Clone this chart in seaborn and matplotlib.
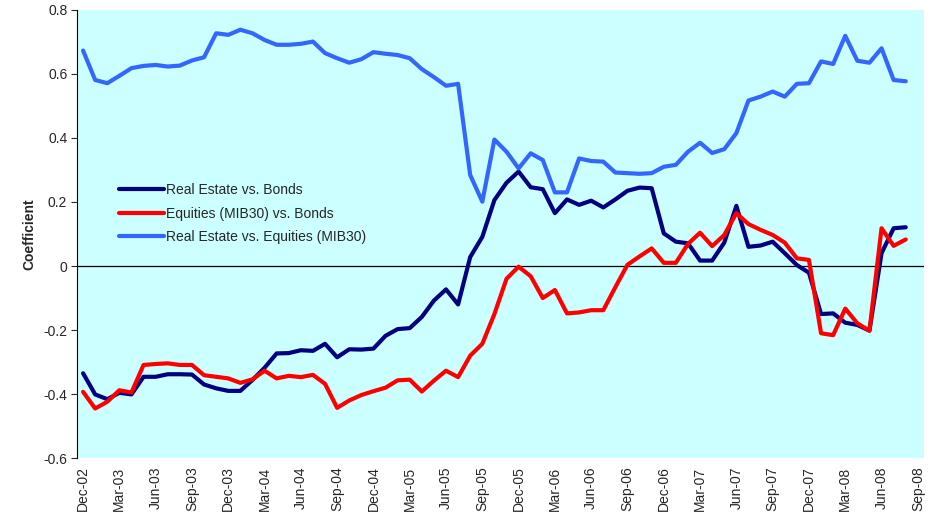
import seaborn as sns
import matplotlib.pyplot as plt
import pandas as pd

# monthly observations, Dec-02 .. Aug-08
months = pd.date_range('2002-12-01', '2008-08-01', freq='MS')

re_bonds = [-0.335, -0.401, -0.416, -0.396, -0.401, -0.346, -0.346, -0.338, -0.338, -0.339,
            -0.370, -0.382, -0.390, -0.390, -0.356, -0.318, -0.273, -0.272, -0.263, -0.265,
            -0.243, -0.285, -0.260, -0.261, -0.258, -0.218, -0.197, -0.194, -0.159, -0.108,
            -0.073, -0.120, 0.028, 0.091, 0.206, 0.260, 0.295, 0.246, 0.240, 0.165,
            0.208, 0.191, 0.204, 0.183, 0.208, 0.235, 0.245, 0.243, 0.102, 0.076,
            0.071, 0.017, 0.017, 0.073, 0.188, 0.060, 0.064, 0.076, 0.040, 0.003,
            -0.021, -0.150, -0.148, -0.177, -0.184, -0.202, 0.040, 0.118, 0.121]

eq_bonds = [-0.393, -0.445, -0.424, -0.388, -0.395, -0.309, -0.306, -0.304, -0.309, -0.309,
            -0.341, -0.346, -0.351, -0.365, -0.354, -0.327, -0.351, -0.343, -0.347, -0.340,
            -0.368, -0.443, -0.420, -0.403, -0.391, -0.380, -0.357, -0.355, -0.392, -0.358,
            -0.327, -0.347, -0.280, -0.243, -0.150, -0.040, -0.002, -0.032, -0.100, -0.075,
            -0.148, -0.145, -0.138, -0.138, -0.066, 0.004, 0.030, 0.055, 0.010, 0.010,
            0.069, 0.104, 0.062, 0.097, 0.165, 0.131, 0.113, 0.097, 0.073, 0.024,
            0.019, -0.210, -0.216, -0.133, -0.179, -0.202, 0.118, 0.063, 0.083]

re_eq = [0.673, 0.581, 0.571, 0.594, 0.618, 0.625, 0.628, 0.623, 0.626, 0.642,
         0.652, 0.727, 0.722, 0.738, 0.727, 0.706, 0.691, 0.691, 0.694, 0.701,
         0.665, 0.649, 0.635, 0.646, 0.668, 0.663, 0.659, 0.649, 0.615, 0.590,
         0.563, 0.569, 0.284, 0.201, 0.395, 0.357, 0.305, 0.352, 0.331, 0.230,
         0.230, 0.336, 0.328, 0.326, 0.292, 0.290, 0.288, 0.290, 0.310, 0.316,
         0.357, 0.385, 0.353, 0.365, 0.415, 0.517, 0.529, 0.545, 0.529, 0.569,
         0.571, 0.639, 0.631, 0.719, 0.641, 0.635, 0.680, 0.581, 0.577]

series_names = ['Real Estate vs. Bonds', 'Equities (MIB30) vs. Bonds',
                'Real Estate vs. Equities (MIB30)']
colors = ['#000080', '#FF0000', '#3366FF']

# category axis runs one month further (Sep-08) than the data
tick_dates = pd.date_range('2002-12-01', '2008-09-01', freq='3MS')
tick_labels = [d.strftime('%b-%y') for d in tick_dates]

frames = []
for name, vals in zip(series_names, [re_bonds, eq_bonds, re_eq]):
    frames.append(pd.DataFrame({'idx': range(len(months)), 'Coefficient': vals, 'Series': name}))
df = pd.concat(frames)

sns.set_style('white')
plt.rcParams['font.family'] = ['Liberation Sans', 'DejaVu Sans']

fig = plt.figure(figsize=(9.37, 5.2), dpi=100)
ax = fig.add_axes([0.0822, 0.119, 0.9038, 0.862])
ax.set_facecolor('#CCFFFF')

sns.lineplot(data=df, x='idx', y='Coefficient', hue='Series', palette=colors,
             hue_order=series_names, linewidth=3, ax=ax)

ax.axhline(0, color='black', linewidth=0.9, zorder=1)

ax.set_xlim(-0.5, 69.5)
ax.set_ylim(-0.6, 0.8)
ax.set_xticks(range(0, 70, 3))
ax.set_xticklabels(tick_labels, rotation=90, fontsize=10)
ax.set_yticks([-0.6, -0.4, -0.2, 0, 0.2, 0.4, 0.6, 0.8])
ax.set_yticklabels(['-0.6', '-0.4', '-0.2', '0', '0.2', '0.4', '0.6', '0.8'], fontsize=10)
ax.tick_params(axis='x', length=0, pad=6)
ax.tick_params(axis='y', length=4, direction='out', left=True, width=0.8, pad=3)

for side in ['top', 'right', 'bottom']:
    ax.spines[side].set_visible(False)
ax.spines['left'].set_color('black')
ax.spines['left'].set_linewidth(0.8)

ax.set_xlabel('')
ax.set_ylabel('Coefficient', fontsize=10, fontweight='bold', labelpad=5)

handles, labels = ax.get_legend_handles_labels()
ax.legend(handles, labels, loc='upper left', bbox_to_anchor=(0.035, 0.642), frameon=False,
          fontsize=10, handlelength=3.2, handletextpad=0.15, labelspacing=0.7)

plt.savefig('out.png', dpi=100)
